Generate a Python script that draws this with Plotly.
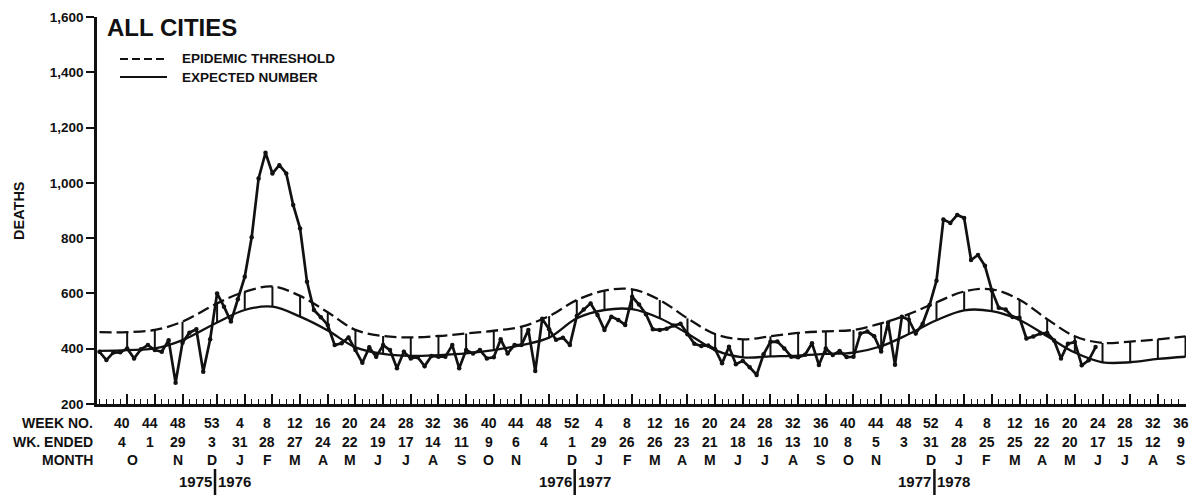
import plotly.graph_objects as go

# ---------------- DATA ----------------
# weekly observed deaths, week 36 of 1975 (index 0) through week 23 of 1978
observed = [
    389, 359, 386, 387, 401, 365, 398, 413, 395, 389,
    431, 277, 422, 458, 470, 317, 434, 600, 552, 498,
    579, 660, 803, 1016, 1109, 1034, 1064, 1034, 920, 835,
    642, 540, 514, 486, 413, 420, 441, 395, 349, 405,
    371, 413, 395, 329, 389, 365, 369, 337, 374, 371,
    371, 413, 329, 395, 383, 395, 365, 369, 434, 383,
    413, 413, 468, 319, 508, 470, 432, 440, 413, 518,
    542, 564, 522, 468, 516, 504, 486, 588, 560, 525,
    470, 468, 472, 484, 490, 452, 418, 410, 412, 398,
    347, 407, 344, 356, 333, 305, 380, 425, 426, 401,
    371, 369, 378, 420, 341, 401, 377, 392, 370, 371,
    455, 462, 445, 390, 495, 342, 516, 505, 455, 490,
    558, 646, 867, 855, 884, 873, 721, 739, 700, 611,
    548, 542, 515, 512, 437, 444, 455, 457, 430, 365,
    418, 424, 340, 358, 406,
]

# labelled weeks (x-axis rows)
label_years = [1975] * 4 + [1976] * 13 + [1977] * 13 + [1978] * 9
week_no = [40, 44, 48, 53,
           4, 8, 12, 16, 20, 24, 28, 32, 36, 40, 44, 48, 52,
           4, 8, 12, 16, 20, 24, 28, 32, 36, 40, 44, 48, 52,
           4, 8, 12, 16, 20, 24, 28, 32, 36]
wk_ended = [4, 1, 29, 3, 31, 28, 27, 24, 22, 19, 17, 14, 11, 9, 6, 4, 1,
            29, 26, 26, 23, 21, 18, 16, 13, 10, 8, 5, 3, 31,
            28, 25, 25, 22, 20, 17, 15, 12, 9]

months = ["O", "N", "D",
          "J", "F", "M", "A", "M", "J", "J", "A", "S", "O", "N", "D",
          "J", "F", "M", "A", "M", "J", "J", "A", "S", "O", "N", "D",
          "J", "F", "M", "A", "M", "J", "J", "A", "S"]
month_years = [1975] * 3 + [1976] * 12 + [1977] * 12 + [1978] * 9
month_weeks = [41.5, 48, 53,
               4, 8, 12, 16, 20, 24, 28, 32, 36, 40, 44, 52,
               4, 8, 12, 16, 20, 24, 28, 32, 36, 40, 44, 52,
               4, 8, 12, 16, 20, 24, 28, 32, 36]

# epidemic threshold and expected number: week 36 1975, then each labelled week
threshold = [460, 460, 468, 498, 564, 606, 625, 591, 532, 468, 446, 441, 446,
             455, 465, 480, 518, 576, 610, 615, 576, 510, 453, 434, 445, 457,
             463, 468, 492, 525, 568, 607, 615, 577, 507, 445, 421, 426, 434, 445]
expected = [392, 395, 401, 431, 495, 540, 552, 516, 466, 405, 381, 374, 377,
            383, 395, 413, 440, 510, 540, 543, 510, 455, 395, 369, 372, 375,
            381, 386, 409, 453, 503, 539, 536, 504, 445, 386, 351, 351, 363, 371]

y_ticks = [200, 400, 600, 800, 1000, 1200, 1400, 1600]
year_breaks = [(1975, 1976), (1976, 1977), (1977, 1978)]

# ---------------- helpers ----------------
YEAR_OFFSET = {1975: -36, 1976: 17, 1977: 69, 1978: 121}


def week_index(year, week):
    return YEAR_OFFSET[year] + week


obs_x = list(range(len(observed)))
label_x = [week_index(y, w) for y, w in zip(label_years, week_no)]
band_x = [0] + label_x
month_x = [week_index(y, w) for y, w in zip(month_years, month_weeks)]

PL, PR, PT, PB = 97, 1186, 17, 404  # plot area in pixels


def px(xp):
    return (xp - PL) / (PR - PL)


def py(yp):
    return (PB - yp) / (PB - PT)


FONT = "Liberation Sans"
BLACK = "#111111"
LABEL_SHIFT = -5

fig = go.Figure()

# threshold (dashed)
fig.add_trace(go.Scatter(x=band_x, y=threshold, mode="lines",
                         line=dict(color=BLACK, width=2.3, dash="12px,5px",
                                   shape="spline", smoothing=1.0),
                         hoverinfo="skip"))
# expected (solid)
fig.add_trace(go.Scatter(x=band_x, y=expected, mode="lines",
                         line=dict(color=BLACK, width=2.3, shape="spline",
                                   smoothing=1.0),
                         hoverinfo="skip"))
# vertical connectors between expected and threshold
cx, cy = [], []
for xv, lo, hi in zip(band_x[1:], expected[1:], threshold[1:]):
    cx += [xv, xv, None]
    cy += [lo, hi, None]
fig.add_trace(go.Scatter(x=cx, y=cy, mode="lines",
                         line=dict(color=BLACK, width=2), hoverinfo="skip"))
# observed
fig.add_trace(go.Scatter(x=obs_x, y=observed, mode="lines+markers",
                         line=dict(color=BLACK, width=2.7),
                         marker=dict(color=BLACK, size=4.5)))

annotations = []
shapes = []

# title & legend
annotations.append(dict(text="<b>ALL CITIES</b>", x=px(105), y=py(28),
                        xref="paper", yref="paper", xanchor="left",
                        yanchor="middle", showarrow=False,
                        font=dict(family=FONT, size=24, color=BLACK)))
for txt, yp, dash in [("EPIDEMIC THRESHOLD", 59, "8px,4px"),
                      ("EXPECTED NUMBER", 77, "solid")]:
    shapes.append(dict(type="line", xref="paper", yref="paper",
                       x0=px(120), x1=px(167), y0=py(yp), y1=py(yp),
                       line=dict(color=BLACK, width=2, dash=dash)))
    annotations.append(dict(text="<b>%s</b>" % txt, x=px(180), y=py(yp),
                            xref="paper", yref="paper", xanchor="left",
                            yanchor="middle", showarrow=False,
                            font=dict(family=FONT, size=13.5, color=BLACK)))

# y-axis title
annotations.append(dict(text="<b>DEATHS</b>", x=px(19), y=py(211),
                        xref="paper", yref="paper", textangle=-90,
                        xanchor="center", yanchor="middle", showarrow=False,
                        font=dict(family=FONT, size=14.5, color=BLACK)))

# row headers
for txt, yp in [("WEEK NO.", 423), ("WK. ENDED", 442), ("MONTH", 460)]:
    annotations.append(dict(text="<b>%s</b>" % txt, x=px(95), y=py(yp),
                            xref="paper", yref="paper", xanchor="right",
                            yanchor="middle", showarrow=False,
                            font=dict(family=FONT, size=14, color=BLACK)))

row_font = dict(family=FONT, size=14, color=BLACK)
for xv, wn, we in zip(label_x, week_no, wk_ended):
    annotations.append(dict(text="<b>%d</b>" % wn, x=xv, y=py(423), xref="x",
                            yref="paper", xanchor="center", yanchor="middle",
                            xshift=LABEL_SHIFT, showarrow=False, font=row_font))
    annotations.append(dict(text="<b>%d</b>" % we, x=xv, y=py(442), xref="x",
                            yref="paper", xanchor="center", yanchor="middle",
                            xshift=LABEL_SHIFT, showarrow=False, font=row_font))
for xv, m in zip(month_x, months):
    annotations.append(dict(text="<b>%s</b>" % m, x=xv, y=py(460), xref="x",
                            yref="paper", xanchor="center", yanchor="middle",
                            xshift=LABEL_SHIFT, showarrow=False, font=row_font))

# year separators
for y0, y1 in year_breaks:
    xb = week_index(y1, 0) - 0.3
    shapes.append(dict(type="line", xref="x", yref="paper", x0=xb, x1=xb,
                       y0=py(469), y1=py(495),
                       line=dict(color=BLACK, width=2.5)))
    annotations.append(dict(text="<b>%d</b>" % y0, x=xb, y=py(481), xref="x",
                            yref="paper", xanchor="right", yanchor="middle",
                            xshift=-1, showarrow=False,
                            font=dict(family=FONT, size=15, color=BLACK)))
    annotations.append(dict(text="<b>%d</b>" % y1, x=xb, y=py(481), xref="x",
                            yref="paper", xanchor="left", yanchor="middle",
                            xshift=1, showarrow=False,
                            font=dict(family=FONT, size=15, color=BLACK)))

fig.update_layout(
    width=1197, height=496, autosize=False,
    margin=dict(l=PL, r=1197 - PR, t=PT, b=496 - PB),
    paper_bgcolor="white", plot_bgcolor="white",
    showlegend=False,
    annotations=annotations, shapes=shapes,
    xaxis=dict(range=[-0.36, 157.07], showline=True, linecolor=BLACK,
               linewidth=3, ticks="inside", tickvals=label_x, ticklen=10,
               tickwidth=1.6, tickcolor=BLACK, showticklabels=False,
               showgrid=False, zeroline=False,
               minor=dict(ticks="inside", dtick=1, tick0=0, ticklen=5,
                          tickwidth=1.3, tickcolor=BLACK, showgrid=False)),
    yaxis=dict(range=[200, 1600], tickvals=y_ticks,
               ticktext=["{:,}".format(v) for v in y_ticks],
               ticks="outside", ticklen=8, tickwidth=2, tickcolor=BLACK,
               showline=True, linecolor=BLACK, linewidth=2.6,
               showgrid=False, zeroline=False,
               tickfont=dict(family=FONT, size=13.5, color=BLACK,
                             weight="bold")),
)

fig.write_html("out.html",
               config={"displayModeBar": False},
               post_script="document.body.style.margin='0px';"
                           "document.body.style.overflow='hidden';")
